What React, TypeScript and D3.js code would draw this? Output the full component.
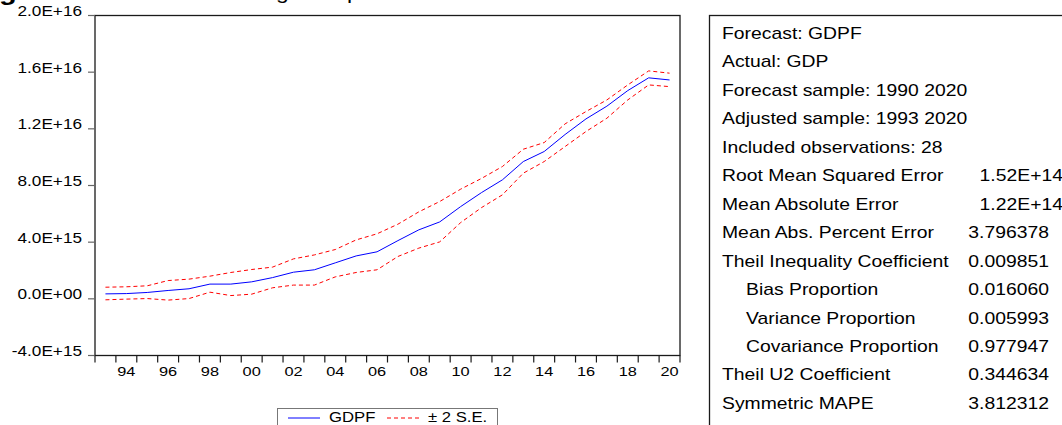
// @ts-nocheck
import React, { useRef, useEffect } from 'react';
import * as d3 from 'd3';

// observation years 1993..2020 (adjusted sample)
var years = [1993, 1994, 1995, 1996, 1997, 1998, 1999, 2000, 2001, 2002, 2003, 2004, 2005, 2006,
    2007, 2008, 2009, 2010, 2011, 2012, 2013, 2014, 2015, 2016, 2017, 2018, 2019, 2020];
// values in units of 1E+15
var gdpf = [0.35, 0.37, 0.45, 0.59, 0.71, 1.04, 1.04, 1.2, 1.5, 1.88, 2.05, 2.54, 3.03, 3.32,
    4.11, 4.87, 5.43, 6.51, 7.5, 8.4, 9.69, 10.4, 11.6, 12.7, 13.6, 14.7, 15.6, 15.45];
var upper = [0.82, 0.85, 0.92, 1.29, 1.39, 1.6, 1.86, 2.07, 2.24, 2.82, 3.1, 3.48, 4.16, 4.59,
    5.27, 6.14, 6.87, 7.74, 8.5, 9.34, 10.56, 11.03, 12.35, 13.22, 14.04, 15.1, 16.09, 15.93];
var lower = [-0.07, -0.02, 0.02, -0.09, 0.02, 0.47, 0.23, 0.33, 0.78, 0.97, 0.97, 1.55, 1.86, 2.05,
    2.99, 3.58, 4.02, 5.38, 6.44, 7.34, 8.87, 9.69, 10.75, 11.81, 12.75, 14.04, 15.1, 14.98];
var yTicks = [-4, 0, 4, 8, 12, 16, 20];
var yTickLabels = ["-4.0E+15", "0.0E+00", "4.0E+15", "8.0E+15", "1.2E+16", "1.6E+16", "2.0E+16"];
var xLabelYears = [1994, 1996, 1998, 2000, 2002, 2004, 2006, 2008, 2010, 2012, 2014, 2016, 2018, 2020];
var legendItems = ["GDPF", "\u00b1 2 S.E."];

var statLabels = ["Forecast: GDPF", "Actual: GDP", "Forecast sample: 1990 2020", "Adjusted sample: 1993 2020",
    "Included observations: 28", "Root Mean Squared Error", "Mean Absolute Error", "Mean Abs. Percent Error",
    "Theil Inequality Coefficient", "Bias Proportion", "Variance Proportion", "Covariance Proportion",
    "Theil U2 Coefficient", "Symmetric MAPE"];
var statValues = ["", "", "", "", "", "1.52E+14", "1.22E+14", "3.796378", "0.009851", "0.016060",
    "0.005993", "0.977947", "0.344634", "3.812312"];
var statIndent = [0, 0, 0, 0, 0, 0, 0, 0, 0, 1, 1, 1, 0, 0];

var FONT = "'Liberation Sans', Arial, sans-serif";
var STRETCH = 1.21; // the source picture is a bit wider than tall

export default function App() {
    var svgRef = useRef(null);
    useEffect(function () {
        var W = 1062, H = 425;
        var frame = { left: 95, right: 680, top: 15.5, bottom: 355.5 };
        var svg = d3.select(svgRef.current)
            .attr('width', W)
            .attr('height', H);
        svg.selectAll('*').remove();

        // helper for horizontally stretched text
        var txt = function (g, x, y, s, size, anchor, weight) {
            return g.append('text')
                .attr('transform', "translate(" + x + "," + y + ") scale(" + STRETCH + ",1)")
                .attr('text-anchor', anchor || 'start')
                .attr('font-family', FONT)
                .attr('font-size', size)
                .attr('font-weight', weight || 'normal')
                .attr('fill', '#000')
                .text(s);
        };

        // title sits above the picture, only its descenders show
        txt(svg, -1, 0, "g", 24, 'start', 'bold');
        txt(svg, 276, -1, "g", 19);
        txt(svg, 347, -1, "p", 19);

        var xScale = d3.scaleBand()
            .domain(years)
            .range([frame.left, frame.right])
            .padding(0);
        var yScale = d3.scaleLinear()
            .domain([-4, 20])
            .range([frame.bottom, frame.top]);
        var cx = function (i) { return xScale(years[i]) + xScale.bandwidth() / 2; };

        // frame
        svg.append('rect')
            .attr('x', frame.left)
            .attr('y', frame.top)
            .attr('width', frame.right - frame.left)
            .attr('height', frame.bottom - frame.top)
            .attr('fill', '#fff')
            .attr('stroke', '#1a1a1a')
            .attr('stroke-width', 1.3);

        // y ticks + labels
        yTicks.forEach(function (t, i) {
            svg.append('line')
                .attr('x1', frame.left - 7).attr('x2', frame.left)
                .attr('y1', yScale(t)).attr('y2', yScale(t))
                .attr('stroke', '#666').attr('stroke-width', 1.2);
            txt(svg, 82, yScale(t) + 0.5, yTickLabels[i], 14.2, 'end');
        });

        // x ticks at year boundaries
        var bounds = years.map(function (y) { return xScale(y); }).concat([frame.right]);
        bounds.forEach(function (b) {
            svg.append('line')
                .attr('x1', b).attr('x2', b)
                .attr('y1', frame.bottom).attr('y2', frame.bottom + 7)
                .attr('stroke', '#1a1a1a').attr('stroke-width', 1.2);
        });
        xLabelYears.forEach(function (y) {
            var s = String(y).slice(2);
            txt(svg, xScale(y) + xScale.bandwidth() / 2, 376, s, 13.5, 'middle');
        });

        // series
        var line = d3.line()
            .x(function (d, i) { return cx(i); })
            .y(function (d) { return yScale(d); });
        svg.append('path').datum(upper)
            .attr('d', line).attr('fill', 'none')
            .attr('stroke', '#ff0000').attr('stroke-width', 1)
            .attr('stroke-dasharray', '4,3');
        svg.append('path').datum(lower)
            .attr('d', line).attr('fill', 'none')
            .attr('stroke', '#ff0000').attr('stroke-width', 1)
            .attr('stroke-dasharray', '4,3');
        svg.append('path').datum(gdpf)
            .attr('d', line).attr('fill', 'none')
            .attr('stroke', '#0000ff').attr('stroke-width', 1);

        // legend (cut by the bottom edge)
        var lg = svg.append('g');
        lg.append('rect')
            .attr('x', 277.5).attr('y', 408.5)
            .attr('width', 220).attr('height', 30)
            .attr('fill', '#fff').attr('stroke', '#777').attr('stroke-width', 1);
        lg.append('line')
            .attr('x1', 288).attr('x2', 320).attr('y1', 418).attr('y2', 418)
            .attr('stroke', '#0000ff').attr('stroke-width', 1);
        txt(lg, 329, 422, legendItems[0], 13.8);
        lg.append('line')
            .attr('x1', 387).attr('x2', 421).attr('y1', 418).attr('y2', 418)
            .attr('stroke', '#ff0000').attr('stroke-width', 1)
            .attr('stroke-dasharray', '4,3');
        txt(lg, 428, 422, legendItems[1], 13.8);

        // statistics table
        var tb = svg.append('g');
        tb.append('rect')
            .attr('x', 709.5).attr('y', frame.top)
            .attr('width', 400).attr('height', 450)
            .attr('fill', '#fff').attr('stroke', '#1a1a1a').attr('stroke-width', 1.3);
        statLabels.forEach(function (s, i) {
            var y = 39 + i * 28.45;
            txt(tb, statIndent[i] ? 746 : 722, y, s, 16);
            if (statValues[i]) {
                var vx = statValues[i].indexOf('E') >= 0 ? 1063 : 1049;
                txt(tb, vx, y, statValues[i], 16, 'end');
            }
        });

        return function () {
            d3.select(svgRef.current).selectAll('*').remove();
        };
    }, []);
    return (
        <svg ref={svgRef} style={{ position: 'absolute', left: 0, top: 0, background: '#fff' }}></svg>
    );
}
